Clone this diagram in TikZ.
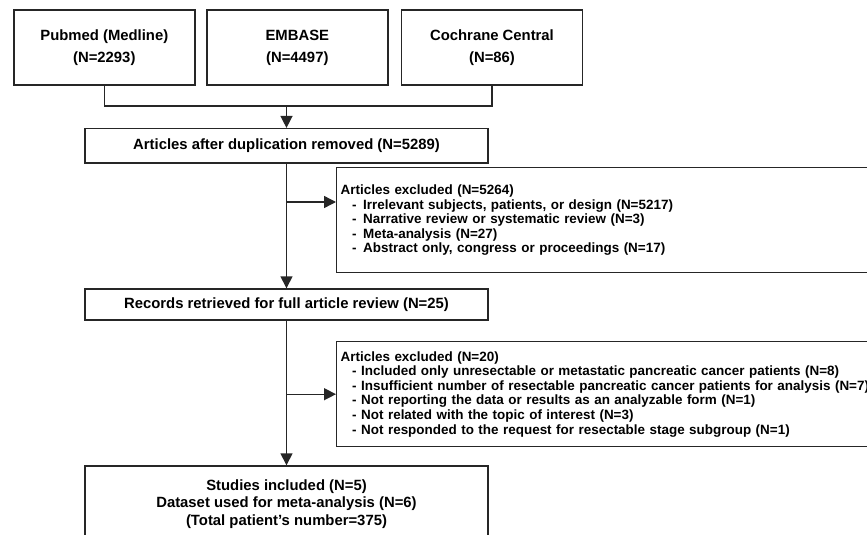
\documentclass[tikz,border=0pt]{standalone}
\usepackage{fontspec}
\setmainfont{Liberation Sans}
\usetikzlibrary{arrows.meta}
\begin{document}
\begin{tikzpicture}[x=1pt,y=-1pt]
%styles des noeuds
\tikzstyle{boxSrc}=[rectangle, draw=black!85, line width=1.4pt, minimum width=181pt, minimum height=75pt, align=center, font=\fontsize{14.85}{22}\selectfont\bfseries]
\tikzstyle{boxMain}=[rectangle, draw=black!85, line width=1.4pt, minimum width=403pt, align=center, font=\fontsize{14.85}{17.8}\selectfont\bfseries]
\tikzstyle{boxExcl}=[rectangle, draw=black!85, line width=1.4pt, anchor=north west, text width=600pt, inner xsep=4pt, minimum height=105pt, align=left, font=\fontsize{13.45}{14.6}\selectfont\bfseries]
%cadre
\useasboundingbox (0,0) rectangle (867,535);
\clip (0,0) rectangle (867,535);
%nodes
\node[boxSrc] (pubmed) at (104.3,47.5) {Pubmed (Medline)\\(N=2293)};
\node[boxSrc] (embase) at (297.3,47.5) {EMBASE\\(N=4497)};
\node[boxSrc] (cochrane) at (492,47.5) {Cochrane Central\\(N=86)};

\node[boxMain, minimum height=34.4pt] (dup) at (286.5,145.8) {Articles after duplication removed (N=5289)};
\node[boxMain, minimum height=31pt] (records) at (286.5,304.5) {Records retrieved for full article review (N=25)};
\node[boxMain, minimum height=76pt] (final) at (286.5,504) {Studies included (N=5)\\Dataset used for meta-analysis (N=6)\\(Total patient’s number=375)};

\node[boxExcl] (excl1) at (336,167) {Articles excluded (N=5264)\\
\hspace*{11.5pt}-\hspace*{6.5pt}Irrelevant subjects, patients, or design (N=5217)\\
\hspace*{11.5pt}-\hspace*{6.5pt}Narrative review or systematic review (N=3)\\
\hspace*{11.5pt}-\hspace*{6.5pt}Meta-analysis (N=27)\\
\hspace*{11.5pt}-\hspace*{6.5pt}Abstract only, congress or proceedings (N=17)};
\node[boxExcl] (excl2) at (336,341) {Articles excluded (N=20)\\
\hspace*{11.5pt}- Included only unresectable or metastatic pancreatic cancer patients (N=8)\\
\hspace*{11.5pt}- Insufficient number of resectable pancreatic cancer patients for analysis (N=7)\\
\hspace*{11.5pt}- Not reporting the data or results as an analyzable form (N=1)\\
\hspace*{11.5pt}- Not related with the topic of interest (N=3)\\
\hspace*{11.5pt}- Not responded to the request for resectable stage subgroup (N=1)};

%fleches
\tikzstyle{lineC}=[draw=black!85, line width=1.4pt]
\tikzstyle{arrowLine}=[lineC, -{Triangle[length=12pt,width=12pt]}]
\coordinate (mrg) at (dup.north |- 0,106);
\draw[lineC] (pubmed.south) |- (mrg) -| (cochrane.south);
\draw[arrowLine] (mrg) -- (dup.north);
\draw[arrowLine] (dup.south) -- (records.north);
\coordinate (br1) at (dup.south |- 0,202);
\draw[arrowLine] (br1) -- (br1 -| excl1.west);
\draw[arrowLine] (records.south) -- (final.north);
\coordinate (br2) at (records.south |- excl2.west);
\draw[arrowLine] (br2) -- (excl2.west);
\end{tikzpicture}
\end{document}
